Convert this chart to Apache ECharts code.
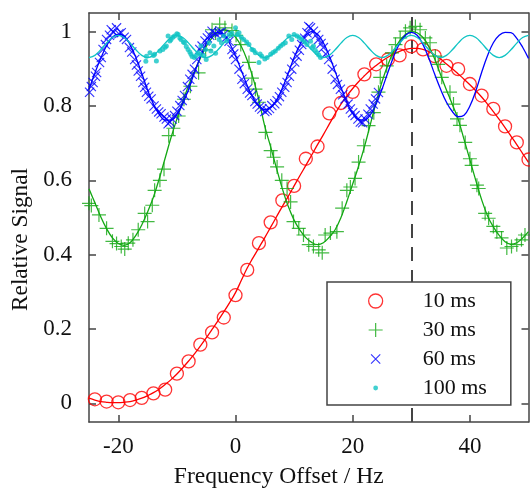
<!DOCTYPE html>
<html>
<head>
<meta charset="utf-8">
<script src="https://cdn.jsdelivr.net/npm/echarts@6/dist/echarts.min.js"></script>
<style>html,body{margin:0;padding:0;background:#fff;}#c{width:530px;height:494px;}</style>
</head>
<body>
<div id="c"></div>
<script>
// ---- tick labels / axis ----
var xTicks = [-20, 0, 20, 40];
var yTicks = [0, 0.2, 0.4, 0.6, 0.8, 1];
var dashX = 30;

// ---- fit curves (integer offsets -25..50) ----
var fitX = [];
for (var k = -25; k <= 50; k++) fitX.push(k);

var fit10 = [0.014,0.009,0.005,0.003,0.002,0.002,0.003,0.005,0.009,0.014,0.021,0.029,0.039,0.051,0.064,0.079,0.096,0.114,0.133,0.154,0.176,0.199,0.222,0.246,0.271,0.298,0.331,0.364,0.392,0.419,0.446,0.474,0.502,0.53,0.557,0.585,0.613,0.64,0.668,0.696,0.723,0.751,0.779,0.805,0.827,0.847,0.865,0.881,0.896,0.909,0.921,0.931,0.94,0.947,0.952,0.955,0.955,0.952,0.946,0.937,0.926,0.913,0.9,0.886,0.872,0.857,0.841,0.824,0.805,0.785,0.764,0.742,0.719,0.696,0.672,0.648];
var fit30 = [0.577,0.54,0.502,0.47,0.445,0.43,0.425,0.432,0.452,0.48,0.515,0.555,0.605,0.66,0.715,0.765,0.812,0.855,0.893,0.928,0.96,0.983,0.998,1.005,1.0,0.985,0.96,0.923,0.875,0.815,0.745,0.69,0.632,0.577,0.53,0.493,0.466,0.446,0.433,0.427,0.432,0.447,0.467,0.5,0.543,0.59,0.638,0.69,0.75,0.81,0.865,0.91,0.948,0.975,0.992,1.0,0.997,0.984,0.96,0.926,0.884,0.843,0.804,0.764,0.71,0.655,0.6,0.548,0.505,0.475,0.452,0.435,0.428,0.432,0.445,0.462];
var fit60 = [0.845,0.888,0.928,0.962,0.985,0.993,0.988,0.965,0.93,0.888,0.843,0.805,0.777,0.762,0.762,0.777,0.806,0.845,0.89,0.932,0.967,0.99,0.998,0.99,0.968,0.935,0.895,0.855,0.822,0.8,0.79,0.795,0.815,0.848,0.888,0.93,0.965,0.99,1.0,0.993,0.97,0.935,0.893,0.85,0.81,0.78,0.763,0.762,0.776,0.805,0.845,0.89,0.933,0.968,0.99,0.998,0.99,0.965,0.928,0.885,0.845,0.81,0.785,0.771,0.775,0.8,0.84,0.89,0.935,0.97,0.99,0.998,0.997,0.982,0.958,0.928];
var fit100 = [0.93,0.936,0.951,0.969,0.984,0.99,0.984,0.969,0.951,0.936,0.93,0.936,0.951,0.969,0.984,0.99,0.984,0.969,0.951,0.936,0.93,0.936,0.951,0.969,0.984,0.99,0.984,0.969,0.951,0.936,0.93,0.936,0.951,0.969,0.984,0.99,0.984,0.969,0.951,0.936,0.93,0.936,0.951,0.969,0.984,0.99,0.984,0.969,0.951,0.936,0.93,0.936,0.951,0.969,0.984,0.99,0.984,0.969,0.951,0.936,0.93,0.936,0.951,0.969,0.984,0.99,0.984,0.969,0.951,0.936,0.93,0.936,0.951,0.969,0.984,0.99];

// ---- measured points ----
var x10 = [-24,-22,-20,-18,-16,-14,-12,-10,-8,-6,-4,-2,0,2,4,6,8,10,12,14,16,18,20,22,24,26,28,30,32,34,36,38,40,42,44,46,48,50];
var y10 = [0.011,0.005,0.003,0.009,0.015,0.027,0.037,0.080,0.113,0.158,0.191,0.231,0.291,0.359,0.431,0.487,0.546,0.585,0.658,0.691,0.780,0.808,0.838,0.885,0.912,0.925,0.936,0.960,0.952,0.934,0.908,0.899,0.859,0.828,0.792,0.745,0.702,0.656];

var x30 = [-25.0,-24.6,-23.3,-22.0,-21.0,-20.3,-19.5,-18.9,-18.3,-17.5,-16.6,-15.5,-15.0,-14.2,-13.8,-12.9,-12.2,-11.4,-10.6,-9.7,-8.8,-7.7,-6.3,-5.1,-4.0,-3.4,-2.7,-1.8,-0.6,0.1,0.9,2.3,2.8,3.4,4.0,5.1,6.0,6.5,7.1,7.9,8.8,9.4,9.9,10.8,11.6,12.5,13.3,14.2,14.8,15.3,16.2,17.3,18.2,19.0,19.6,20.4,21.0,21.9,22.7,23.6,24.4,24.7,25.8,26.7,27.3,28.1,29.0,29.8,30.7,31.5,32.4,33.2,34.1,34.6,35.2,36.6,37.2,37.8,38.3,39.2,40.0,40.3,41.2,41.5,42.6,43.2,44.0,44.6,45.4,46.3,47.1,48.0,48.8,49.4];
var y30 = [0.538,0.532,0.507,0.471,0.436,0.430,0.422,0.415,0.431,0.440,0.467,0.511,0.489,0.533,0.573,0.600,0.630,0.720,0.740,0.773,0.818,0.853,0.889,0.951,1.005,0.996,1.020,1.010,1.003,0.990,0.965,0.917,0.875,0.845,0.810,0.729,0.680,0.662,0.636,0.600,0.578,0.542,0.489,0.471,0.453,0.427,0.422,0.413,0.405,0.453,0.458,0.462,0.525,0.573,0.582,0.605,0.649,0.693,0.747,0.782,0.837,0.877,0.908,0.943,0.965,0.983,1.001,1.010,1.014,1.005,0.983,0.970,0.934,0.912,0.877,0.837,0.805,0.765,0.748,0.702,0.658,0.640,0.587,0.578,0.511,0.498,0.476,0.462,0.445,0.418,0.422,0.427,0.440,0.453];

var x60 = [-24.9,-24.6,-24.3,-23.9,-23.7,-23.2,-22.9,-22.6,-22.2,-22.0,-21.5,-21.2,-20.8,-20.3,-19.9,-19.5,-19.0,-18.6,-18.1,-17.7,-17.2,-16.9,-16.6,-16.2,-15.8,-15.5,-15.2,-14.8,-14.4,-13.9,-13.5,-13.1,-12.7,-12.2,-11.8,-11.5,-11.2,-10.8,-10.4,-10.0,-9.5,-9.1,-8.7,-8.2,-7.8,-7.4,-7.0,-6.6,-6.1,-5.7,-5.2,-4.8,-4.4,-4.0,-3.4,-2.8,-2.4,-2.0,-1.5,-1.1,-0.6,-0.3,0.0,0.6,1.1,1.5,2.0,2.4,2.8,3.3,3.7,4.1,4.5,5.0,5.4,5.8,6.2,6.7,7.1,7.5,7.9,8.4,8.8,9.2,9.6,10.1,10.5,10.9,11.3,11.8,12.2,12.5,12.8,13.3,13.7,14.2,14.6,15.0,15.4,15.9,16.5,17.0,17.4,17.9,18.3,18.7,19.2,19.6,20.0,20.4,20.9,21.3,21.7,22.1,22.6,23.0,23.5,23.9,24.4];
var y60 = [0.837,0.852,0.863,0.880,0.890,0.917,0.930,0.952,0.965,0.979,0.990,1.005,0.998,1.010,0.994,0.997,0.985,0.979,0.957,0.945,0.925,0.910,0.894,0.880,0.863,0.850,0.837,0.826,0.819,0.800,0.792,0.784,0.779,0.770,0.765,0.752,0.757,0.765,0.774,0.786,0.801,0.815,0.828,0.852,0.872,0.885,0.899,0.925,0.952,0.961,0.975,0.983,0.990,1.001,0.995,0.997,0.999,0.992,0.985,0.974,0.952,0.940,0.925,0.899,0.872,0.860,0.845,0.835,0.828,0.812,0.805,0.797,0.792,0.785,0.788,0.793,0.801,0.806,0.814,0.825,0.837,0.850,0.863,0.880,0.899,0.918,0.934,0.950,0.965,0.982,0.997,1.014,1.010,1.001,0.990,0.979,0.968,0.957,0.940,0.925,0.899,0.872,0.858,0.845,0.830,0.819,0.805,0.792,0.782,0.774,0.765,0.757,0.755,0.765,0.778,0.792,0.805,0.819,0.836];

var x100 = [-15.3,-15.2,-14.6,-14.0,-13.8,-13.5,-12.9,-12.4,-12.0,-11.8,-11.5,-11.2,-11.0,-10.7,-10.4,-10.0,-9.8,-9.5,-9.3,-8.9,-8.7,-8.4,-8.1,-7.8,-7.6,-7.4,-7.0,-6.7,-6.4,-6.0,-5.9,-5.4,-5.1,-5.0,-4.5,-4.2,-3.7,-3.4,-2.8,-2.4,-2.0,-1.5,-1.1,-0.6,0.0,0.3,0.6,1.0,1.4,1.9,2.3,2.8,3.1,3.4,4.0,4.2,4.5,5.0,5.4,6.0,6.4,6.8,7.3,7.7,8.1,8.5,9.1,9.6,10.0,10.5,10.9,11.3,11.8,12.2,12.8,13.1,13.3,13.6,13.9,14.2,14.5];
var y100 = [0.920,0.934,0.943,0.936,0.939,0.921,0.948,0.952,0.958,0.961,0.988,0.975,0.979,0.985,0.988,0.994,0.992,0.983,0.979,0.972,0.970,0.960,0.952,0.945,0.939,0.933,0.930,0.936,0.943,0.939,0.961,0.935,0.952,0.925,0.970,0.948,0.961,0.942,0.979,0.970,0.988,0.975,0.992,0.996,1.010,0.992,0.997,0.985,0.979,0.972,0.965,0.952,0.950,0.943,0.917,0.940,0.934,0.926,0.930,0.939,0.944,0.948,0.955,0.961,0.966,0.970,0.988,0.979,0.992,0.988,0.984,0.979,0.972,0.965,0.974,0.957,0.961,0.950,0.943,0.937,0.930];

var names = ['10 ms', '30 ms', '60 ms', '100 ms'];
var colors = ['#ff0000', '#13a813', '#0000ff', '#11c4c4'];

function pairs(xs, ys) { var o = []; for (var i = 0; i < xs.length; i++) o.push([xs[i], ys[i]]); return o; }

var PLUS = 'path://M0,6.4H14V7.6H0Z M6.4,0H7.6V14H6.4Z';
var CROSS = 'path://M0,0.8L0.8,0L10,9.2L9.2,10Z M9.2,0L10,0.8L0.8,10L0,9.2Z';
var CROSS_LEG = 'path://M0,0M14,14M2,2.8L2.8,2L12,11.2L11.2,12Z M11.2,2L12,2.8L2.8,12L2,11.2Z';
var DOT_LEG = 'path://M0,0M14,14M7,4.6A2.4,2.4 0 1,1 6.99,4.6Z';

var FONT = 'Liberation Serif';
var axisCol = '#444';

var chart = echarts.init(document.getElementById('c'), null, {renderer: 'canvas'});

function fitSeries(idx, ys) {
  return {
    type: 'line', name: names[idx] + ' fit', data: pairs(fitX, ys), smooth: 0.4,
    showSymbol: false, symbol: 'none', silent: true,
    lineStyle: {color: colors[idx], width: 1.3}, itemStyle: {color: colors[idx]}, z: 3 + idx
  };
}

var option = {
  animation: false,
  backgroundColor: '#fff',
  grid: {left: 89, right: 1.5, top: 13, bottom: 69, containLabel: false},
  xAxis: [{
    type: 'value', min: -25, max: 50, position: 'bottom',
    axisLine: {show: true, onZero: false, lineStyle: {color: axisCol, width: 1.5}},
    axisTick: {show: true, inside: true, length: 7, customValues: xTicks, lineStyle: {color: axisCol, width: 1.5}},
    axisLabel: {show: true, customValues: xTicks, fontFamily: FONT, fontSize: 23, color: '#111', margin: 13},
    splitLine: {show: false},
    name: 'Frequency Offset / Hz', nameLocation: 'middle', nameGap: 43,
    nameTextStyle: {fontFamily: FONT, fontSize: 23.6, color: '#111', padding: [0, 60, 0, 0]}
  }, {
    type: 'value', min: -25, max: 50, position: 'top',
    axisLine: {show: true, onZero: false, lineStyle: {color: axisCol, width: 1.5}},
    axisTick: {show: true, inside: true, length: 7, customValues: xTicks, lineStyle: {color: axisCol, width: 1.5}},
    axisLabel: {show: false}, splitLine: {show: false}
  }],
  yAxis: [{
    type: 'value', min: -0.05, max: 1.05, position: 'left',
    axisLine: {show: true, onZero: false, lineStyle: {color: axisCol, width: 1.5}},
    axisTick: {show: true, inside: true, length: 7, customValues: yTicks, lineStyle: {color: axisCol, width: 1.5}},
    axisLabel: {show: true, customValues: yTicks, fontFamily: FONT, fontSize: 23, color: '#111', margin: 17},
    splitLine: {show: false},
    name: 'Relative Signal', nameLocation: 'middle', nameGap: 50,
    nameTextStyle: {fontFamily: FONT, fontSize: 23.3, color: '#111', padding: [0, 44, 0, 0]}
  }, {
    type: 'value', min: -0.05, max: 1.05, position: 'right',
    axisLine: {show: true, onZero: false, lineStyle: {color: axisCol, width: 1.5}},
    axisTick: {show: true, inside: true, length: 7, customValues: yTicks, lineStyle: {color: axisCol, width: 1.5}},
    axisLabel: {show: false}, splitLine: {show: false}
  }],
  legend: {
    show: true, selectedMode: false, orient: 'vertical', z: 30,
    left: 327, top: 282,
    padding: [8, 24, 6, 41],
    itemWidth: 14, itemHeight: 14, itemGap: 7,
    backgroundColor: '#fff', borderColor: axisCol, borderWidth: 1.5, borderRadius: 0,
    textStyle: {fontFamily: FONT, fontSize: 22, lineHeight: 22, color: '#111', padding: [0, 0, 0, 35]},
    data: [
      {name: names[0], icon: 'circle', itemStyle: {color: 'rgba(0,0,0,0)', borderColor: colors[0], borderWidth: 1.3}},
      {name: names[1], icon: PLUS, itemStyle: {color: colors[1], borderWidth: 0}},
      {name: names[2], icon: CROSS_LEG, itemStyle: {color: colors[2], borderWidth: 0}},
      {name: names[3], icon: DOT_LEG, itemStyle: {color: colors[3], borderWidth: 0}}
    ]
  },
  series: [
    {
      type: 'line', name: 'dash', data: [], silent: true, z: 1,
      markLine: {
        silent: true, z: 1, symbol: ['none', 'none'], label: {show: false},
        lineStyle: {color: '#444', width: 2, type: [14, 9]},
        data: [{xAxis: dashX}]
      }
    },
    {
      type: 'scatter', name: names[0], data: pairs(x10, y10), symbol: 'circle', symbolSize: 13,
      itemStyle: {color: 'rgba(0,0,0,0)', borderColor: colors[0], borderWidth: 1.3}, z: 2
    },
    fitSeries(0, fit10),
    {
      type: 'scatter', name: names[1], data: pairs(x30, y30), symbol: PLUS, symbolSize: 14,
      itemStyle: {color: colors[1]}, z: 3
    },
    fitSeries(1, fit30),
    {
      type: 'scatter', name: names[2], data: pairs(x60, y60), symbol: CROSS, symbolSize: 10,
      itemStyle: {color: colors[2]}, z: 4
    },
    fitSeries(2, fit60),
    {
      type: 'scatter', name: names[3], data: pairs(x100, y100), symbol: 'circle', symbolSize: 5,
      itemStyle: {color: colors[3]}, z: 5
    },
    fitSeries(3, fit100)
  ]
};
chart.setOption(option);
</script>
</body>
</html>
